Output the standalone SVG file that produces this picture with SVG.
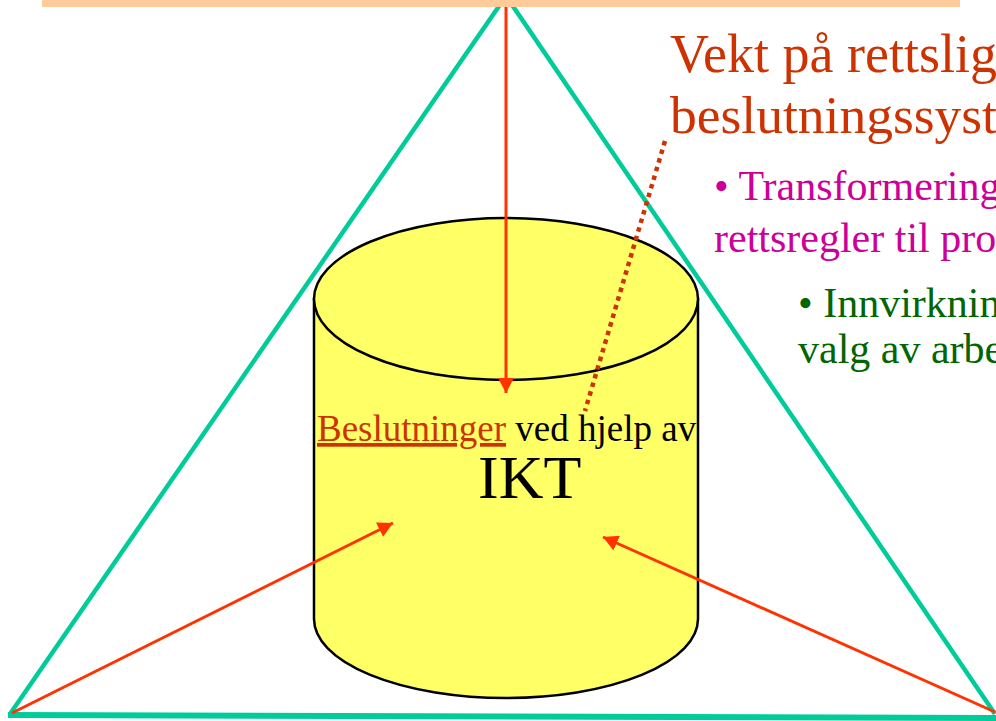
<svg xmlns="http://www.w3.org/2000/svg" width="996" height="721" viewBox="0 0 996 721">
<style>
.tri{fill:none;stroke:#00CC99;stroke-width:4.5;stroke-linejoin:miter}
.cyl{fill:#FFFF66;stroke:#000;stroke-width:2.5}
.arr{stroke:#FF3300;stroke-width:3;fill:none}
.dot{stroke:#CC3300;stroke-width:4.5;stroke-dasharray:4.5 4.5;fill:none}
text{font-family:"Liberation Serif","Times New Roman",serif}
</style>
<defs>
<marker id="ah" markerUnits="userSpaceOnUse" markerWidth="16" markerHeight="16" refX="15" refY="8" orient="auto">
<path d="M0,0 L15,8 L0,16 Z" fill="#FF3300"/>
</marker>
</defs>
<g id="triangle">
<polyline class="tri" points="10,714 506,-4 995,714"/>
<line x1="8" y1="715" x2="996" y2="718" stroke="#00CC99" stroke-width="6"/>
</g>
<g id="cylinder">
<path class="cyl" d="M314,299 L314,619 A192,79 0 0 0 698,619 L698,299 Z"/>
<ellipse class="cyl" cx="506" cy="299" rx="192" ry="81"/>
<text x="317" y="441" font-size="37"><tspan fill="#CC3300" text-decoration="underline">Beslutninger</tspan><tspan fill="#000"> ved hjelp av</tspan></text>
<text x="478" y="498" font-size="62" fill="#000">IKT</text>
</g>
<g id="connectors">
<line class="arr" x1="506" y1="7" x2="506" y2="393" marker-end="url(#ah)"/>
<line class="arr" x1="12" y1="713" x2="393" y2="523" marker-end="url(#ah)"/>
<line class="arr" x1="995" y1="712" x2="603" y2="537" marker-end="url(#ah)"/>
<line class="dot" x1="665" y1="141" x2="585" y2="411"/>
</g>
<g id="topbar">
<rect x="42" y="0" width="918" height="7" fill="#FFCC99"/>
</g>
<g id="title">
<text x="670" y="72" font-size="54" fill="#CC3300">Vekt på rettslige</text>
<text x="670" y="133" font-size="53.5" fill="#CC3300">beslutningssystemer</text>
</g>
<g id="bullet1">
<text x="714" y="200" font-size="42" fill="#CC0099">• Transformering</text>
<text x="714" y="252" font-size="42" fill="#CC0099">rettsregler til programmer</text>
</g>
<g id="bullet2">
<text x="798" y="317" font-size="42" fill="#006600">• Innvirkning</text>
<text x="798" y="363" font-size="42" fill="#006600">valg av arbeidsmåter</text>
</g>
</svg>
